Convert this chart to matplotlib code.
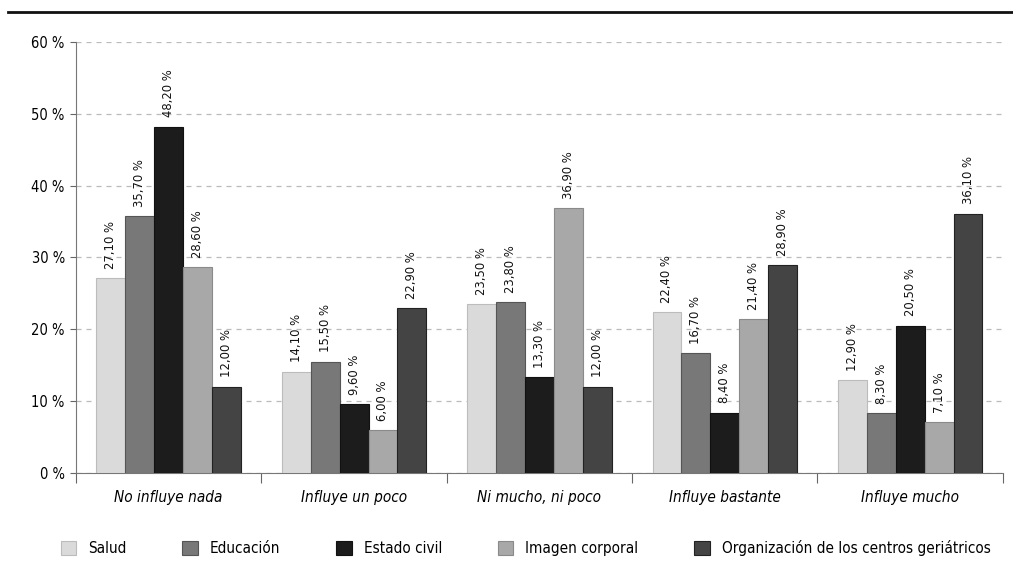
import numpy as np
import matplotlib.pyplot as plt
from matplotlib.lines import Line2D

# Data
categories = ['No influye nada', 'Influye un poco', 'Ni mucho, ni poco',
              'Influye bastante', 'Influye mucho']
series_names = ['Salud', 'Educación', 'Estado civil', 'Imagen corporal',
                'Organización de los centros geriátricos']
salud = [27.1, 14.1, 23.5, 22.4, 12.9]
educacion = [35.7, 15.5, 23.8, 16.7, 8.3]
estado_civil = [48.2, 9.6, 13.3, 8.4, 20.5]
imagen = [28.6, 6.0, 36.9, 21.4, 7.1]
organizacion = [12.0, 22.9, 12.0, 28.9, 36.1]
y_ticks = [0, 10, 20, 30, 40, 50, 60]

series = [salud, educacion, estado_civil, imagen, organizacion]
colors = ['#dadada', '#787878', '#1c1c1c', '#a8a8a8', '#444444']
edges = ['#bcbcbc', '#555555', '#111111', '#8a8a8a', '#222222']

plt.rcParams['font.family'] = ['DejaVu Sans']
plt.rcParams['font.stretch'] = 'condensed'

fig = plt.figure(figsize=(10.13, 5.74), dpi=100)
ax = fig.add_axes([0.075, 0.176, 0.915, 0.751])

x = np.arange(len(categories))
width = 0.156
for i, (vals, name, col, ec) in enumerate(zip(series, series_names, colors, edges)):
    pos = x + (i - 2) * width
    bars = ax.bar(pos, vals, width, color=col, edgecolor=ec,
                  linewidth=0.8, label=name, zorder=3)
    for b, v in zip(bars, vals):
        ax.text(b.get_x() + b.get_width() / 2, v + 1.3,
                ('%.2f' % v).replace('.', ',') + ' %',
                rotation=90, ha='center', va='bottom', fontsize=9.3,
                color='#111111')

ax.set_xlim(-0.5, len(categories) - 0.5)
ax.set_ylim(0, 60)
ax.set_yticks(y_ticks)
ax.set_yticklabels(['%d %%' % t for t in y_ticks], fontsize=10.5)
ax.yaxis.grid(True, linestyle=(0, (4, 4)), color='#bbbbbb', linewidth=0.9, zorder=0)

# category boundaries as ticks, labels centered
ax.set_xticks(np.arange(len(categories) + 1) - 0.5)
ax.set_xticklabels([])
ax.set_xticks(x, minor=True)
ax.set_xticklabels(categories, minor=True, fontsize=11, style='italic')
ax.tick_params(axis='x', which='major', length=7, color='#666666')
ax.tick_params(axis='x', which='minor', length=0, pad=12)
ax.tick_params(axis='y', length=4, color='#666666', pad=4)

for s in ['top', 'right']:
    ax.spines[s].set_visible(False)
ax.spines['left'].set_color('#777777')
ax.spines['bottom'].set_color('#777777')

fig.legend(loc='center', bbox_to_anchor=(0.519, 0.045), ncol=5, frameon=False,
           fontsize=11, handlelength=1.0, handleheight=1.0,
           columnspacing=3.65, handletextpad=0.8)

# black rule across the top
fig.add_artist(Line2D([0.008, 1.0], [0.979, 0.979], color='#111111', linewidth=2.0))

fig.savefig('out.png', dpi=100)
